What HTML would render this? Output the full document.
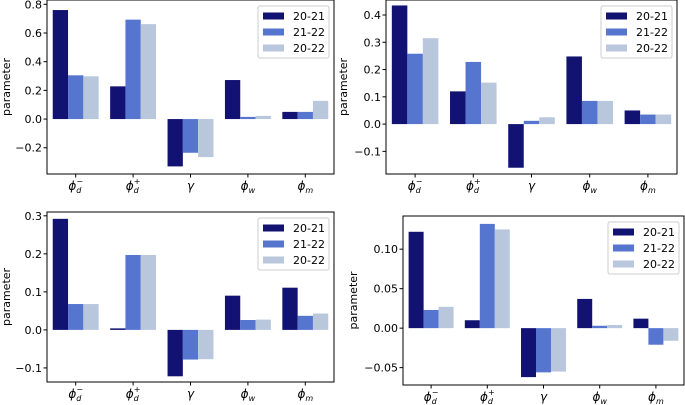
<!DOCTYPE html>
<html><head><meta charset="utf-8"><style>
html,body{margin:0;padding:0;background:#fff;}
svg{display:block;font-family:"DejaVu Sans","Liberation Sans",sans-serif;}
</style></head><body>
<svg id="fig" width="685" height="405" viewBox="0 0 685 405" xmlns="http://www.w3.org/2000/svg"></svg>
<script>
const categories = ["d-", "d+", "g", "w", "m"];
const seriesNames = ["20-21", "21-22", "20-22"];
const colors = ["#121272", "#5575cf", "#b9c7dc"];
// panel data: [series][category]
const tlS1 = [0.76, 0.228, -0.33, 0.272, 0.05];
const tlS2 = [0.305, 0.693, -0.235, 0.015, 0.05];
const tlS3 = [0.298, 0.662, -0.265, 0.022, 0.127];
const trS1 = [0.435, 0.12, -0.16, 0.248, 0.05];
const trS2 = [0.258, 0.228, 0.012, 0.085, 0.035];
const trS3 = [0.315, 0.152, 0.025, 0.085, 0.035];
const blS1 = [0.292, 0.004, -0.122, 0.09, 0.111];
const blS2 = [0.068, 0.197, -0.078, 0.026, 0.037];
const blS3 = [0.068, 0.197, -0.077, 0.027, 0.043];
const brS1 = [0.122, 0.01, -0.062, 0.037, 0.012];
const brS2 = [0.023, 0.132, -0.056, 0.003, -0.021];
const brS3 = [0.027, 0.125, -0.055, 0.004, -0.016];
const tlTicks = [-0.2, 0.0, 0.2, 0.4, 0.6, 0.8];
const trTicks = [-0.1, 0.0, 0.1, 0.2, 0.3, 0.4];
const blTicks = [-0.1, 0.0, 0.1, 0.2, 0.3];
const brTicks = [-0.05, 0.0, 0.05, 0.10];

const panels = [
  {name:"top-left", x0:47, x1:334, y0:0, y1:174, ymin:-0.383, ymax:0.83, data:[tlS1,tlS2,tlS3], ticks:tlTicks, dec:1, ylab:5},
  {name:"top-right", x0:386, x1:677, y0:0, y1:174, ymin:-0.183, ymax:0.455, data:[trS1,trS2,trS3], ticks:trTicks, dec:1, ylab:342},
  {name:"bottom-left", x0:47, x1:334, y0:212, y1:382, ymin:-0.137, ymax:0.31, data:[blS1,blS2,blS3], ticks:blTicks, dec:1, ylab:5},
  {name:"bottom-right", x0:403, x1:684, y0:216, y1:385, ymin:-0.072, ymax:0.142, data:[brS1,brS2,brS3], ticks:brTicks, dec:2, ylab:352}
];
const NS = "http://www.w3.org/2000/svg";
const svg = document.getElementById("fig");
function mk(tag, attrs, parent, text){
  const e = document.createElementNS(NS, tag);
  for (const k in attrs) e.setAttribute(k, attrs[k]);
  if (text !== undefined) e.textContent = text;
  parent.appendChild(e); return e;
}
function catLabel(g, c, x, y){
  const t = mk("text", {x:x, y:y, "text-anchor":"middle", "font-size":"12", "font-style":"italic"}, g);
  
  
  if (c === "g") { t.textContent = "γ"; return; }
  t.appendChild(document.createTextNode("ϕ"));
  const sub = c === "w" ? "w" : c === "m" ? "m" : "d";
  mk("tspan", {"font-size":"8", dy:"3"}, t, sub);
  if (c === "d-" || c === "d+") {
    mk("tspan", {"font-size":"8", dx:"-5", dy:"-9"}, t, c === "d-" ? "−" : "+");
  }
}
panels.forEach(p => {
  const g = mk("g", {}, svg);
  
  
  const ys = v => p.y1 - (v - p.ymin) / (p.ymax - p.ymin) * (p.y1 - p.y0);
  const step = (p.x1 - p.x0) / categories.length;
  const xc = i => p.x0 + step * (i + 0.5);
  const bw = step * 0.8 / 3;
  p.data.forEach((ser, s) => {
    ser.forEach((v, i) => {
      const x = xc(i) - 1.5 * bw + s * bw;
      const y = Math.min(ys(v), ys(0));
      const r = mk("rect", {x:x, y:y, width:bw, height:Math.abs(ys(v) - ys(0)), fill:colors[s]}, g);
      
      
    });
  });
  const ax = mk("rect", {x:p.x0, y:p.y0, width:p.x1 - p.x0, height:p.y1 - p.y0, fill:"none", stroke:"#000", "stroke-width":"1"}, g);
  
  
  p.ticks.forEach(t => {
    const y = ys(t);
    mk("line", {x1:p.x0 - 3.5, x2:p.x0, y1:y, y2:y, stroke:"#000"}, g);
    const lbl = (t < 0 ? "−" : "") + Math.abs(t).toFixed(p.dec);
    const tx = mk("text", {x:p.x0 - 5, y:y + 4, "text-anchor":"end", "font-size":"11"}, g, lbl);
    
    
  });
  categories.forEach((c, i) => {
    mk("line", {x1:xc(i), x2:xc(i), y1:p.y1, y2:p.y1 + 3.5, stroke:"#000"}, g);
    catLabel(g, c, xc(i), p.y1 + 16);
  });
  const yl = mk("text", {x:0, y:0, "font-size":"11", "text-anchor":"middle", transform:"translate(" + (p.ylab + 5) + "," + ((p.y0 + p.y1) / 2) + ") rotate(-90)"}, g, "parameter");
  
  
  const lg = mk("g", {}, g);
  
  
  const lx = p.x1 - 76, ly = p.y0 + 6;
  mk("rect", {x:lx, y:ly, width:71, height:52, rx:2, fill:"#fff", stroke:"#ccc"}, lg);
  seriesNames.forEach((n, s) => {
    const yy = ly + 10 + s * 16;
    const pr = mk("rect", {x:lx + 5, y:yy - 3.5, width:21, height:7, fill:colors[s]}, lg);
    
    
    mk("text", {x:lx + 35, y:yy + 4, "font-size":"11"}, lg, n);
  });
});
</script>
</body></html>
